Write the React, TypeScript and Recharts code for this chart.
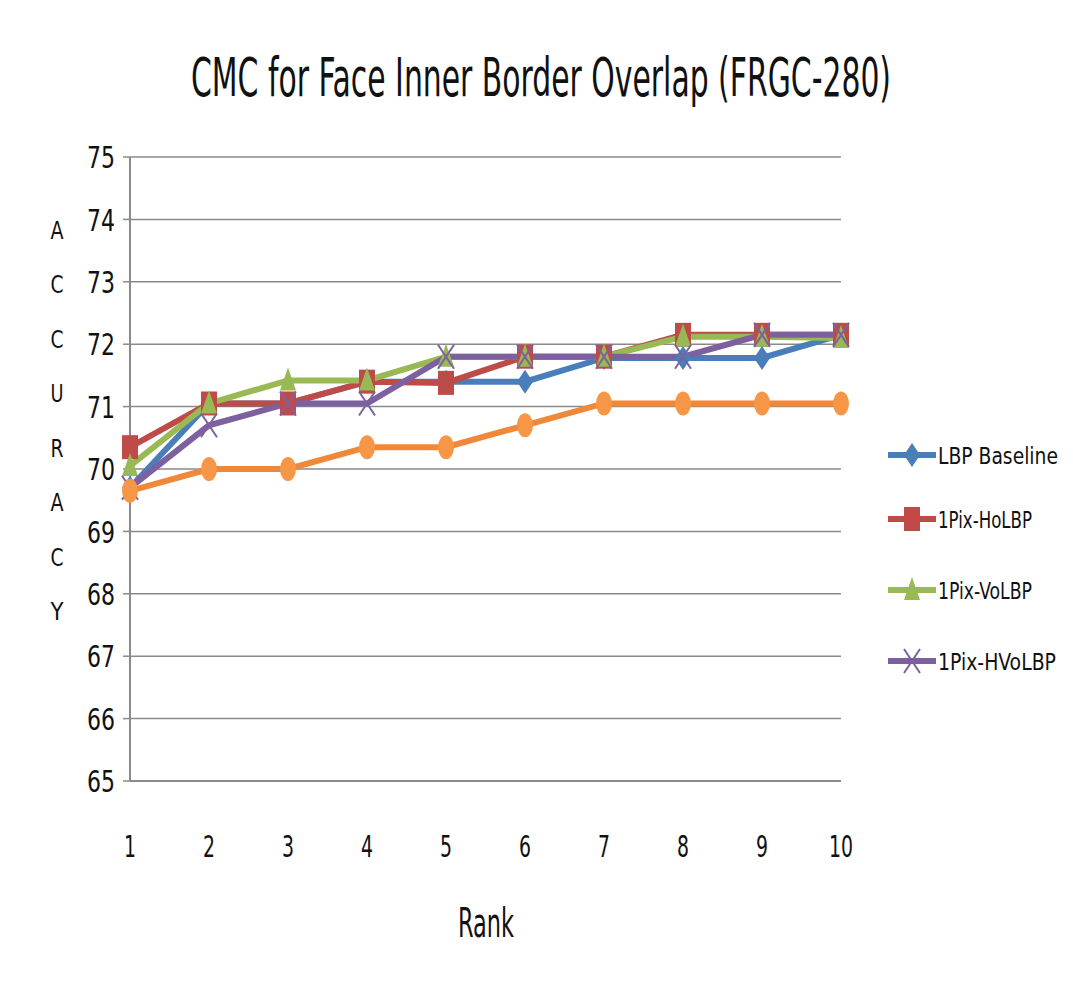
import React from "react";
import {
  LineChart,
  Line,
  XAxis,
  YAxis,
  CartesianGrid,
  Customized,
} from "recharts";

const ranks = [1, 2, 3, 4, 5, 6, 7, 8, 9, 10];
const lbpBaseline = [69.7, 71.05, 71.05, 71.4, 71.4, 71.4, 71.78, 71.78, 71.78, 72.15];
const pixHo = [70.35, 71.05, 71.05, 71.4, 71.38, 71.8, 71.8, 72.15, 72.15, 72.15];
const pixVo = [70.05, 71.05, 71.42, 71.42, 71.8, 71.8, 71.8, 72.12, 72.12, 72.1];
const pixHVo = [69.7, 70.7, 71.05, 71.05, 71.8, 71.8, 71.8, 71.8, 72.15, 72.15];
const extra = [69.65, 70.0, 70.0, 70.35, 70.35, 70.7, 71.05, 71.05, 71.05, 71.05];
const yTicks = [65, 66, 67, 68, 69, 70, 71, 72, 73, 74, 75];
const yLetters = ["A", "C", "C", "U", "R", "A", "C", "Y"];

const data = ranks.map((r, i) => ({
  rank: r,
  base: lbpBaseline[i],
  ho: pixHo[i],
  vo: pixVo[i],
  hvo: pixHVo[i],
  extra: extra[i],
}));

const FONT = "'Liberation Sans Narrow', 'DejaVu Sans Condensed', 'Liberation Sans', sans-serif";

const Diamond = ({ cx, cy, fill }: any) => (
  <path d={`M${cx},${cy - 12}L${cx + 8},${cy}L${cx},${cy + 12}L${cx - 8},${cy}Z`} fill={fill} />
);
const Square = ({ cx, cy, fill }: any) => (
  <rect x={cx - 8} y={cy - 12} width={16} height={24} fill={fill} />
);
const Triangle = ({ cx, cy, fill }: any) => (
  <path d={`M${cx},${cy - 13}L${cx + 8},${cy + 10}L${cx - 8},${cy + 10}Z`} fill={fill} />
);
const Cross = ({ cx, cy, fill }: any) => (
  <g stroke={fill} strokeWidth={2}>
    <line x1={cx - 8} y1={cy - 12} x2={cx + 8} y2={cy + 12} />
    <line x1={cx + 8} y1={cy - 12} x2={cx - 8} y2={cy + 12} />
  </g>
);
const Oval = ({ cx, cy, fill }: any) => <ellipse cx={cx} cy={cy} rx={8} ry={12} fill={fill} />;

const series = [
  { key: "base", name: "LBP Baseline", color: "#4a7ebb", Marker: Diamond },
  { key: "ho", name: "1Pix-HoLBP", color: "#be4b48", Marker: Square },
  { key: "vo", name: "1Pix-VoLBP", color: "#98b954", Marker: Triangle },
  { key: "hvo", name: "1Pix-HVoLBP", color: "#7d60a0", Marker: Cross },
];
const legendWidths = [120, 94, 94, 118];
const legendY = [455, 519, 590, 661];

const YTick = ({ x, y, payload }: any) => (
  <text x={x} y={y} dy="0.36em" textAnchor="end" fontFamily={FONT} fontSize={31} fill="#111"
    textLength={String(payload.value).length * 14} lengthAdjust="spacingAndGlyphs">
    {payload.value}
  </text>
);
const XTick = ({ x, y, payload }: any) => (
  <text x={x} y={y} dy="0.71em" textAnchor="middle" fontFamily={FONT} fontSize={31} fill="#111"
    textLength={String(payload.value).length * 12} lengthAdjust="spacingAndGlyphs">
    {payload.value}
  </text>
);

const Decorations = () => (
  <g fontFamily={FONT} fill="#111">
    <rect x={7} y={7} width={1200} height={1200} fill="none" stroke="#888" strokeWidth={2} />
    <text transform="translate(541,96) scale(1,1.75)" x={0} y={0} textAnchor="middle"
      fontSize={30} textLength={700} lengthAdjust="spacingAndGlyphs">
      CMC for Face Inner Border Overlap (FRGC-280)
    </text>
    {yLetters.map((l, i) => (
      <text key={i} x={57} y={230 + i * 54.5} dy="0.36em" textAnchor="middle" fontSize={24}
        textLength={13} lengthAdjust="spacingAndGlyphs">
        {l}
      </text>
    ))}
    <text x={486} y={937} textAnchor="middle" fontSize={40} textLength={56}
      lengthAdjust="spacingAndGlyphs">
      Rank
    </text>
    {series.map((s, i) => {
      const cy = legendY[i];
      const M = s.Marker;
      return (
        <g key={s.key}>
          <line x1={888} x2={936} y1={cy} y2={cy} stroke={s.color} strokeWidth={6} />
          <M cx={912} cy={cy} fill={s.color} />
          <text transform={`translate(938,${cy}) scale(1,1.25)`} x={0} y={0} dy="0.36em"
            fontSize={19} textLength={legendWidths[i]} lengthAdjust="spacingAndGlyphs">
            {s.name}
          </text>
        </g>
      );
    })}
  </g>
);

export default function App() {
  return (
    <div style={{ position: "relative", margin: "-8px 0 0 -8px", width: 1073, height: 986,
      overflow: "hidden", background: "#fff" }}>
      <LineChart width={1073} height={986} data={data}
        margin={{ top: 157, right: 232, bottom: 145, left: 70 }}>
        <CartesianGrid vertical={false} stroke="#8a8a8a" strokeWidth={1.5} />
        <XAxis dataKey="rank" tick={<XTick />} tickLine={false} tickMargin={48} height={60}
          axisLine={{ stroke: "#8a8a8a", strokeWidth: 2 }} />
        <YAxis domain={[65, 75]} ticks={yTicks} width={60} tick={<YTick />} tickSize={7}
          tickMargin={8} interval={0} axisLine={{ stroke: "#8a8a8a", strokeWidth: 2 }}
          tickLine={{ stroke: "#8a8a8a", strokeWidth: 1.5 }} />
        {series.map((s) => (
          <Line key={s.key} dataKey={s.key} name={s.name} stroke={s.color} strokeWidth={6}
            isAnimationActive={false}
            dot={(p: any) => <s.Marker key={`${s.key}-${p.index}`} cx={p.cx} cy={p.cy} fill={s.color} />} />
        ))}
        <Line dataKey="extra" name="extra" stroke="#f0883a" strokeWidth={6} legendType="none"
          isAnimationActive={false}
          dot={(p: any) => <Oval key={`ex-${p.index}`} cx={p.cx} cy={p.cy} fill="#f79646" />} />
        <Customized component={Decorations} />
      </LineChart>
    </div>
  );
}
